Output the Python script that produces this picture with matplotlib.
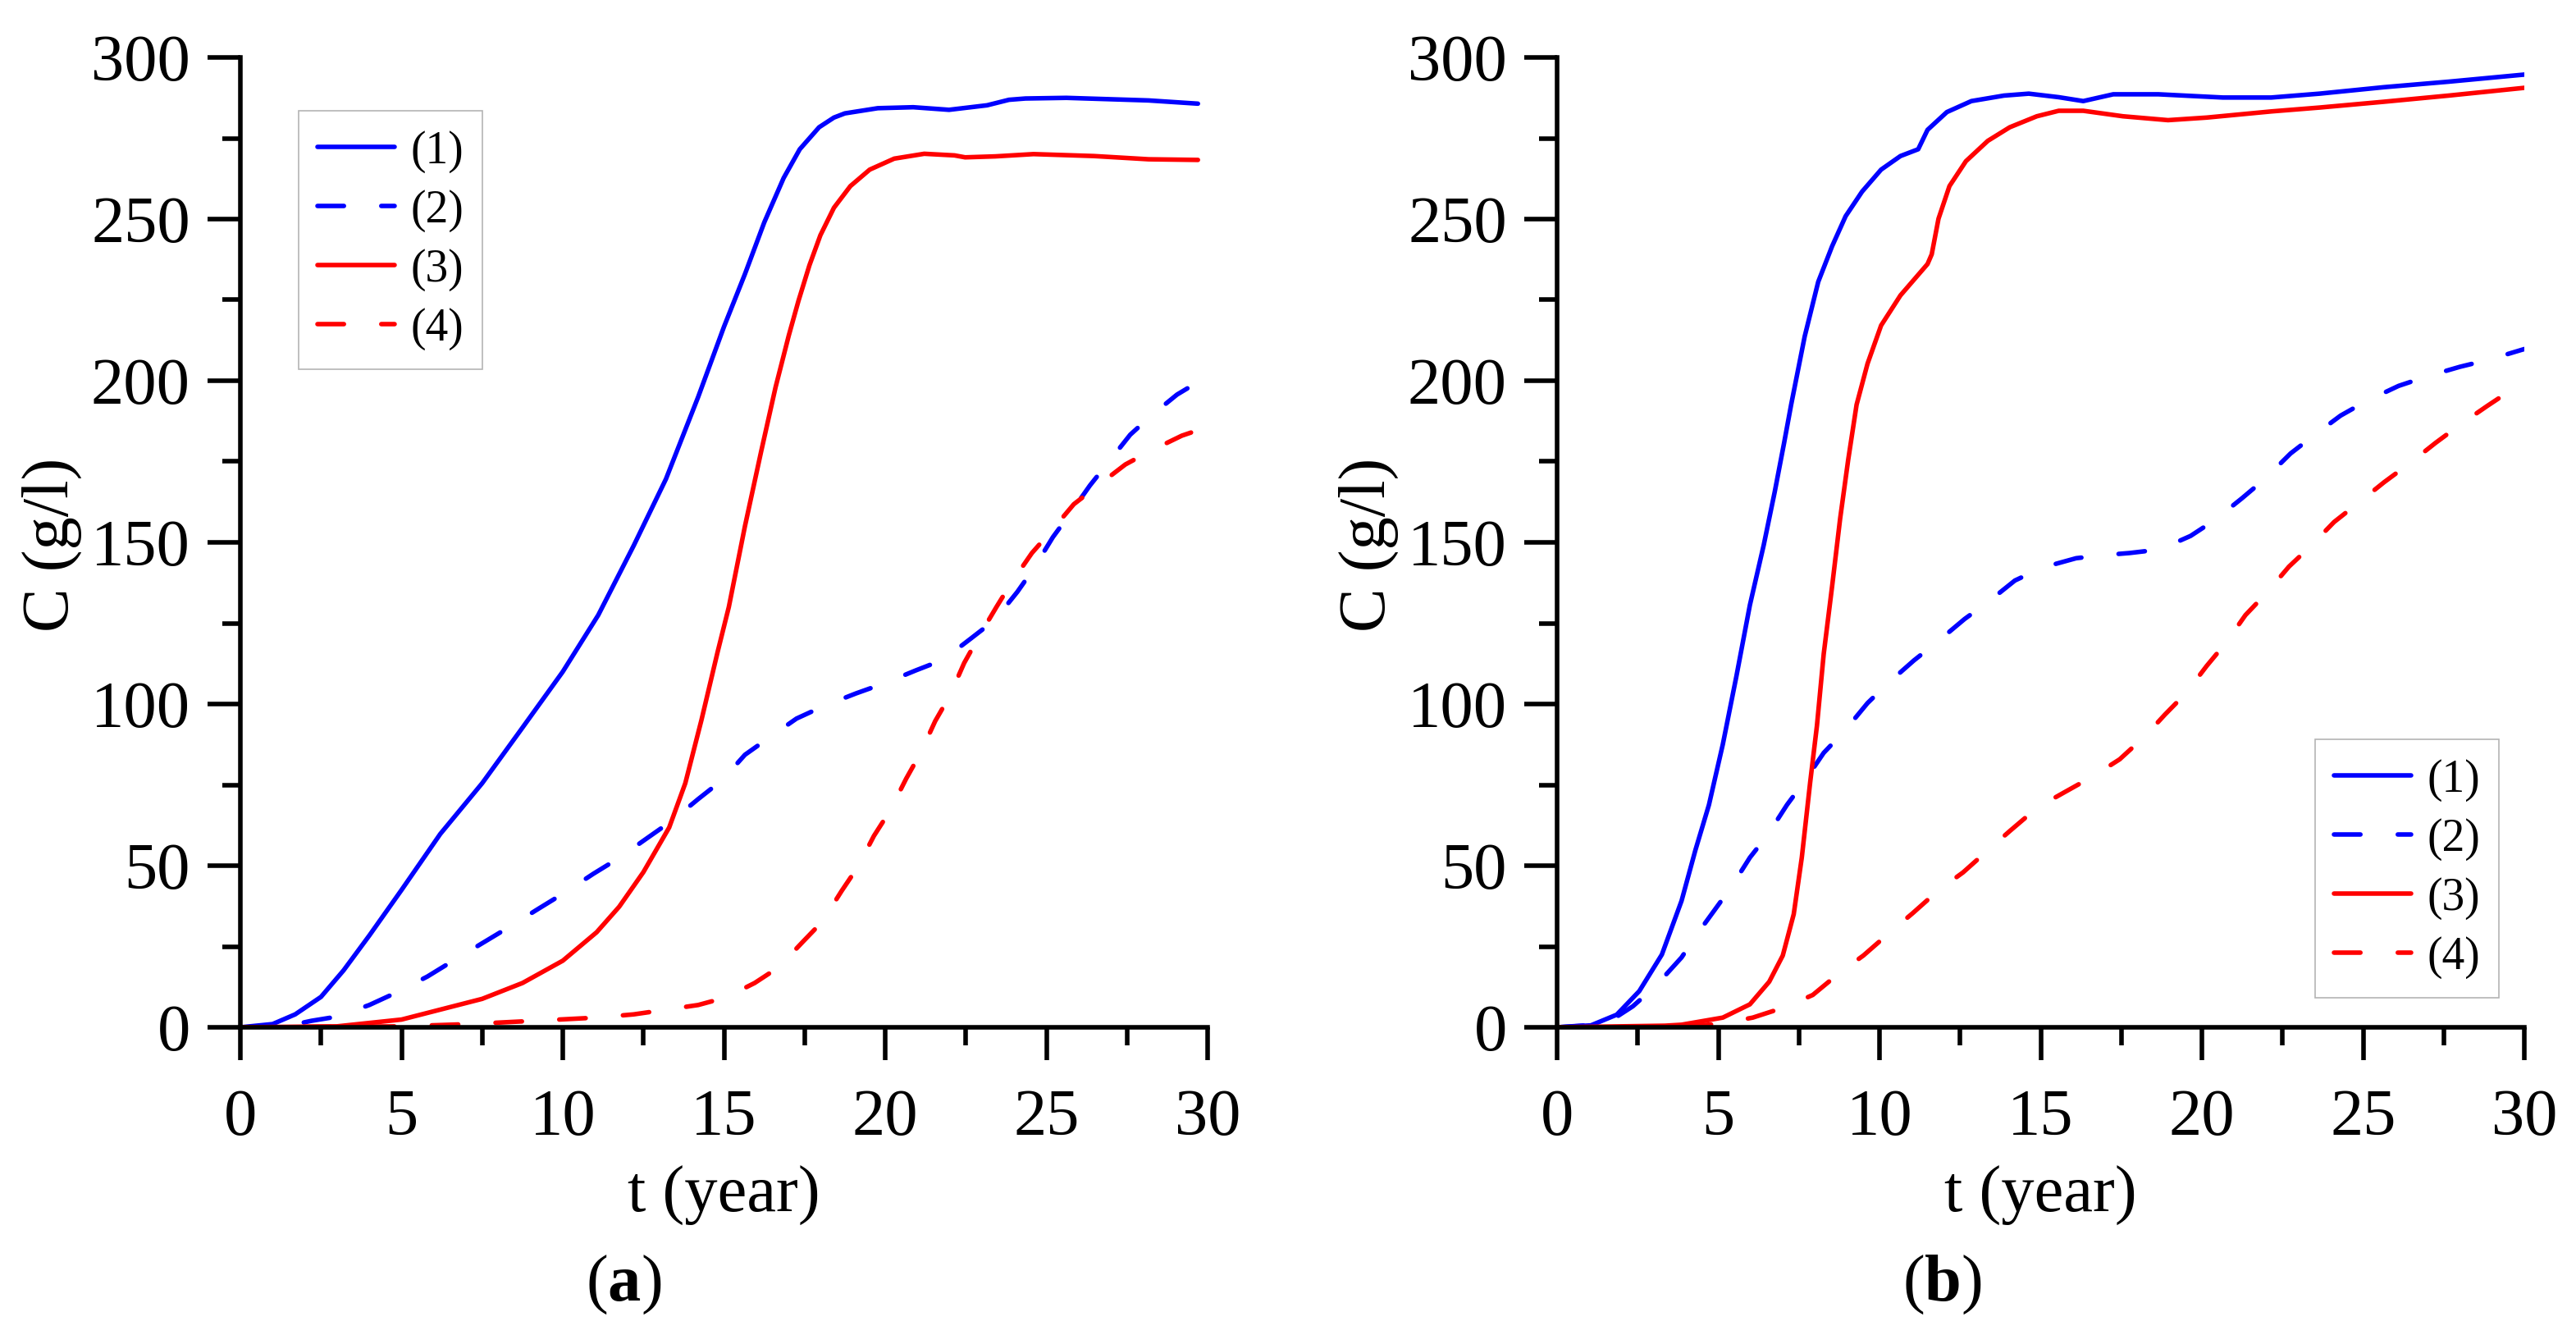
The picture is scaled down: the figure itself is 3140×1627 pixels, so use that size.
import matplotlib
matplotlib.use("Agg")
import matplotlib.pyplot as plt
from matplotlib.ticker import MultipleLocator

plt.rcParams["font.family"] = ["Liberation Serif", "DejaVu Serif"]
plt.rcParams["mathtext.fontset"] = "custom"
plt.rcParams["mathtext.rm"] = "Liberation Serif"
plt.rcParams["mathtext.bf"] = "Liberation Serif:bold"

# ---- panel (a) ----
a_t1 = [0, 1.0, 1.7, 2.5, 3.2, 4.0, 5.0, 6.2, 7.5, 8.7, 10.0, 11.1, 12.2, 13.2, 14.2, 15.0,
        15.65, 16.25, 16.85, 17.35, 17.95, 18.41, 18.75, 19.77, 20.87, 21.98, 23.16, 23.84,
        24.35, 25.62, 28.17, 29.7]
a_c1 = [0, 1, 4, 9.4, 17.6, 28.4, 42.5, 59.8, 75.5, 92, 110, 127.5, 149, 169.6, 195, 216.7,
        233, 249, 262.7, 271.6, 278.4, 281.4, 282.7, 284.3, 284.6, 283.8, 285.2, 286.9,
        287.3, 287.5, 286.7, 285.7]

a_t2 = [0, 1.5, 2.2, 3.0, 4.0, 4.85, 5.8, 6.6, 7.5, 8.3, 9.25, 10.05, 10.95, 11.75, 12.6, 13.4,
        14.2, 14.95, 15.65, 16.4, 17.25, 18.1, 19.1, 20.0, 20.95, 21.8, 22.65, 23.4, 24.1, 24.6,
        25.2, 25.7, 26.35, 26.9, 27.6, 28.25, 29.05, 29.7]
a_c2 = [0, 0.5, 2, 3.3, 6.9, 10.8, 15.7, 20.6, 26, 30.8, 36.7, 41.6, 47.5, 52.4, 58.4, 64,
        70.6, 76.5, 84.3, 89.6, 95.5, 99.4, 103.3, 106.5, 110.4, 113.7, 120.2, 126, 134.7, 141.8,
        151.6, 158.4, 167.6, 174.5, 183.3, 189.2, 195.7, 199.6]

a_t3 = [0, 3.0, 5.0, 7.5, 8.75, 10.0, 11.05, 11.75, 12.5, 13.3, 13.8, 14.3, 14.8, 15.15, 15.65,
        16.15, 16.6, 17.01, 17.31, 17.65, 17.99, 18.41, 18.92, 19.52, 20.28, 21.21, 22.15, 22.48,
        23.42, 24.6, 26.47, 28.17, 29.7]
a_c3 = [0, 0.3, 2.4, 8.8, 13.7, 20.6, 29.4, 37.3, 48, 61.8, 75.5, 95, 116, 130, 155,
        178, 198, 214, 224.7, 235.7, 245, 253.5, 260.2, 265.3, 268.7, 270.2, 269.7, 269.1,
        269.4, 270.1, 269.5, 268.5, 268.3]

a_t4 = [0, 5.0, 7.1, 9.1, 11.05, 12.2, 13.1, 14.2, 15.05, 15.95, 16.7, 17.45, 18.05, 18.65,
        19.15, 19.65, 20.15, 20.65, 21.1, 21.55, 22.0, 22.45, 22.95, 23.45, 23.9, 24.55, 25.15,
        25.85, 26.6, 27.45, 28.25, 29.2, 29.7]
a_c4 = [0, 0.3, 1, 2, 3, 4, 5.3, 6.9, 9.2, 13.7, 18.6, 26.5, 32.7, 42.2,
        49.6, 59.2, 67, 76.9, 84.9, 94.7, 102.5, 112.7, 121.6, 130, 137.3, 146.7, 153.5,
        161.8, 167.6, 174.1, 178.4, 183, 184.7]

# ---- panel (b) ----
b_t1 = [0, 1.05, 1.85, 2.55, 3.25, 3.86, 4.29, 4.71, 5.14, 5.56, 5.98, 6.41, 6.75, 7.04, 7.26,
        7.68, 8.1, 8.53, 8.95, 9.46, 10.05, 10.65, 11.2, 11.49, 12.09, 12.85, 13.86, 14.63,
        15.56, 16.32, 17.25, 18.65, 20.65, 22.15, 23.65, 25.65, 27.65, 30]
b_c1 = [0, 0.6, 3.9, 11.2, 22.5, 39.1, 54.8, 68.8, 87.5, 108.5, 130.6, 149.2, 165.6, 180.7, 192.6,
        213.7, 230.6, 241.6, 250.9, 258.5, 265.3, 269.5, 271.6, 277.6, 283.1, 286.5, 288.2, 288.8,
        287.7, 286.5, 288.6, 288.6, 287.6, 287.6, 288.8, 290.8, 292.5, 294.7]

b_t2 = [0, 1.5, 2.35, 3.05, 3.86, 4.37, 5.39, 5.98, 6.53, 7.13, 7.68, 8.27, 8.91, 9.63, 10.26,
        11.07, 11.79, 12.64, 13.36, 14.2, 15.05, 16.1, 17.0, 17.75, 18.7, 19.65, 20.4, 21.25,
        21.95, 22.75, 23.45, 24.3, 25.1, 26.1, 27.0, 28.0, 28.9, 30]
b_c2 = [0, 1, 6.5, 12.7, 21.6, 29.2, 43.2, 52.5, 59.5, 68.8, 76.2, 84.9, 91.6, 100.3, 106.4,
        113.5, 119.2, 126.3, 131.5, 138.2, 142.2, 145.1, 146.1, 146.7, 147.8, 152, 156.9, 163.7,
        169.6, 177.5, 182.9, 189.2, 193.7, 198.4, 201.4, 204.3, 206.5, 209.8]

b_t3 = [0, 3.35, 3.86, 5.14, 5.98, 6.58, 7.0, 7.34, 7.59, 7.85, 8.06, 8.27, 8.53, 8.78, 9.03,
        9.29, 9.63, 10.05, 10.65, 11.49, 11.62, 11.83, 12.17, 12.68, 13.36, 14.04, 14.88, 15.56,
        16.32, 17.55, 18.95, 20.15, 22.15, 23.65, 25.65, 27.65, 30]
b_c3 = [0, 0.5, 0.8, 3, 7.1, 14.1, 22.2, 35, 52.5, 75.8, 93.3, 115.5, 136.4, 157.4, 175.6,
        192.6, 205.3, 217.1, 226.4, 236.1, 239.1, 250.1, 260.2, 267.9, 274.2, 278.4, 281.8, 283.5,
        283.5, 281.8, 280.6, 281.4, 283.3, 284.5, 286.3, 288.2, 290.6]

b_t4 = [0, 3.65, 5.0, 6.07, 7.09, 7.93, 8.78, 9.5, 10.35, 11.03, 11.83, 12.59, 13.4, 14.04, 14.9,
        15.7, 16.65, 17.45, 18.25, 18.85, 19.5, 20.15, 20.75, 21.35, 22.0, 22.7, 23.35, 24.1,
        24.85, 25.65, 26.45, 27.25, 28.05, 28.85, 29.65, 30]
b_c4 = [0, 0.2, 1, 3, 6.3, 10, 17, 22.2, 29.6, 35.3, 42.4, 47.9, 55.1, 60.7, 68,
        72.5, 77.8, 82.9, 90.2, 96.7, 103.3, 111.8, 119, 127.5, 134.3, 142.5, 148.6, 156.3,
        162.2, 168.6, 174.5, 180.8, 186.7, 192.2, 197.5, 199.4]

labels = ["(1)", "(2)", "(3)", "(4)"]
colors = ["#0000ff", "#0000ff", "#ff0000", "#ff0000"]
dashed = [False, True, False, True]

W, H = 3140, 1627
fig = plt.figure(figsize=(W / 100, H / 100), dpi=100)

FS = 58
LW = 4.0


def px(x, y):
    # pixel position (from top-left) -> figure fraction
    return x / W, 1 - y / H


def draw_panel(ax_left, series, leg_xy, tag_x, tag):
    ax = fig.add_axes([ax_left / W, 1 - 1252 / H, 1179 / W, 1182 / H])
    for (t, c), lab, col, ds in zip(series, labels, colors, dashed):
        if ds:
            ax.plot(t, c, color=col, lw=LW, linestyle=(0, (5.8, 8.2)),
                    dash_capstyle="round", solid_joinstyle="round", label=lab)
        else:
            ax.plot(t, c, color=col, lw=LW, solid_capstyle="round",
                    solid_joinstyle="round", label=lab)
    ax.set_xlim(0, 30)
    ax.set_ylim(0, 300)
    ax.xaxis.set_major_locator(MultipleLocator(5))
    ax.xaxis.set_minor_locator(MultipleLocator(2.5))
    ax.yaxis.set_major_locator(MultipleLocator(50))
    ax.yaxis.set_minor_locator(MultipleLocator(25))
    for s in ["top", "right"]:
        ax.spines[s].set_visible(False)
    for s in ["left", "bottom"]:
        ax.spines[s].set_linewidth(4)
    ax.tick_params(which="major", direction="out", length=29, width=4, labelsize=FS)
    ax.tick_params(which="minor", direction="out", length=16, width=4)
    ax.tick_params(axis="x", which="major", pad=25)
    ax.tick_params(axis="y", which="major", pad=15)
    ax.patch.set_alpha(0)

    leg = ax.legend(loc="upper left", bbox_to_anchor=px(*leg_xy), bbox_transform=fig.transFigure,
                    borderaxespad=0, fontsize=40, frameon=True, fancybox=False, framealpha=1,
                    edgecolor="#b4b4b4", handlelength=1.68, handletextpad=0.35,
                    labelspacing=0.36, borderpad=0.42)
    leg.get_frame().set_linewidth(1.2)

    cx = ax_left + 1179 / 2
    fig.text(*px(cx, 1457), "t (year)", fontsize=FS, ha="center", va="center")
    fig.text(*px(ax_left - 230, 664), "C (g/l)", fontsize=FS, rotation=90,
             ha="center", va="center")
    fig.text(*px(tag_x, 1566), r"($\mathbf{" + tag + "}$)", fontsize=FS,
             ha="center", va="center")
    return ax


draw_panel(293, [(a_t1, a_c1), (a_t2, a_c2), (a_t3, a_c3), (a_t4, a_c4)],
           (364, 135), 760, "a")
draw_panel(1898, [(b_t1, b_c1), (b_t2, b_c2), (b_t3, b_c3), (b_t4, b_c4)],
           (2822, 901), 2367, "b")

fig.savefig("out.png", dpi=100)
